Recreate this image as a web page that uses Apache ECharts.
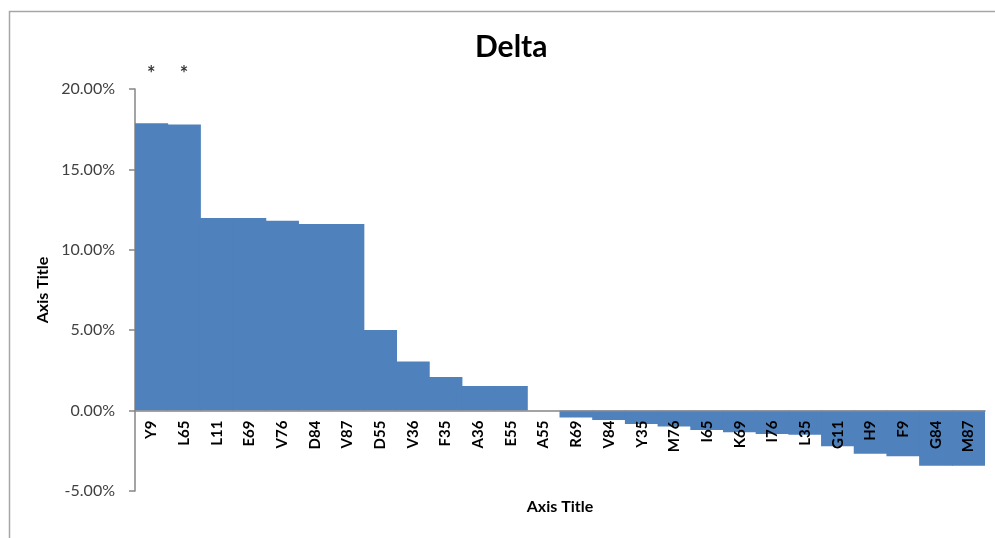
<!DOCTYPE html>
<html>
<head>
<meta charset="utf-8">
<script src="https://cdn.jsdelivr.net/npm/echarts@6/dist/echarts.min.js"></script>
<style>html,body{margin:0;padding:0;background:#fff;}#c{width:995px;height:538px;}</style>
</head>
<body>
<div id="c"></div>
<script>
const categories = ['Y9','L65','L11','E69','V76','D84','V87','D55','V36','F35','A36','E55','A55','R69','V84','Y35','M76','I65','K69','I76','L35','G11','H9','F9','G84','M87'];
const deltaValues = [0.1787,0.1779,0.1197,0.1197,0.1180,0.1161,0.1161,0.0501,0.0306,0.0209,0.0153,0.0153,0.0000,-0.0043,-0.0058,-0.0084,-0.0099,-0.0120,-0.0134,-0.0146,-0.0150,-0.0222,-0.0269,-0.0284,-0.0343,-0.0343];
const significance = ['*','*','','','','','','','','','','','','','','','','','','','','','','','',''];
const yTicks = [-0.05, 0, 0.05, 0.10, 0.15, 0.20];
const starLevel = 0.2087;

const FONT = 'Lato, "Open Sans", sans-serif';
const GRID = { left: 135, right: 10, top: 89, bottom: 47 };
const chart = echarts.init(document.getElementById('c'));
const starData = [];
significance.forEach((s, i) => { if (s) starData.push({ value: [categories[i], starLevel], mark: s }); });

function build(xOffset) {
  return {
    animation: false,
    backgroundColor: '#ffffff',
    graphic: [{
      type: 'rect', left: 7, top: 9, shape: { width: 1010, height: 560 },
      style: { fill: 'none', stroke: '#a6a6a6', lineWidth: 1.5 }, silent: true, z: -10
    }],
    title: {
      text: 'Delta', left: 470, top: 27,
      textStyle: { fontFamily: FONT, fontSize: 30, fontWeight: 'bold', color: '#000' }
    },
    grid: Object.assign({ containLabel: false, outerBoundsMode: 'none' }, GRID),
    xAxis: {
      type: 'category', data: categories, offset: xOffset, z: 20,
      axisLine: { show: true, onZero: false, lineStyle: { color: '#868686', width: 1.5 } },
      axisTick: { show: false },
      axisLabel: { interval: 0, rotate: 90, margin: 10, fontFamily: FONT, fontSize: 15, fontWeight: 'bold', color: '#000' },
      name: 'Axis Title', nameLocation: 'middle', nameGap: 88,
      nameTextStyle: { fontFamily: FONT, fontSize: 16, fontWeight: 'bold', color: '#000' }
    },
    yAxis: {
      type: 'value', min: yTicks[0], max: yTicks[yTicks.length - 1], interval: 0.05,
      splitLine: { show: false },
      axisLine: { show: true, lineStyle: { color: '#868686', width: 1.5 } },
      axisTick: { show: true, length: 6, lineStyle: { color: '#868686', width: 1.5 } },
      axisLabel: { margin: 20, fontFamily: FONT, fontSize: 16, color: '#404040', formatter: v => (v * 100).toFixed(2) + '%' },
      name: 'Axis Title', nameLocation: 'middle', nameGap: 83, nameRotate: 90,
      nameTextStyle: { fontFamily: FONT, fontSize: 16, fontWeight: 'bold', color: '#000' }
    },
    series: [{
      type: 'bar', data: deltaValues, barCategoryGap: 0, barGap: 0, barWidth: '103%',
      itemStyle: { color: '#4F81BD' }
    }, {
      type: 'scatter', data: starData, symbolSize: 0, clip: false,
      label: { show: true, position: 'inside', formatter: p => p.data.mark, fontFamily: FONT, fontSize: 20, fontWeight: 'bold', color: '#000' }
    }]
  };
}
chart.setOption(build(0));
const zeroY = chart.convertToPixel({ yAxisIndex: 0 }, 0);
const bottomY = 538 - GRID.bottom;
chart.setOption(build(zeroY - bottomY));
</script>
</body>
</html>
